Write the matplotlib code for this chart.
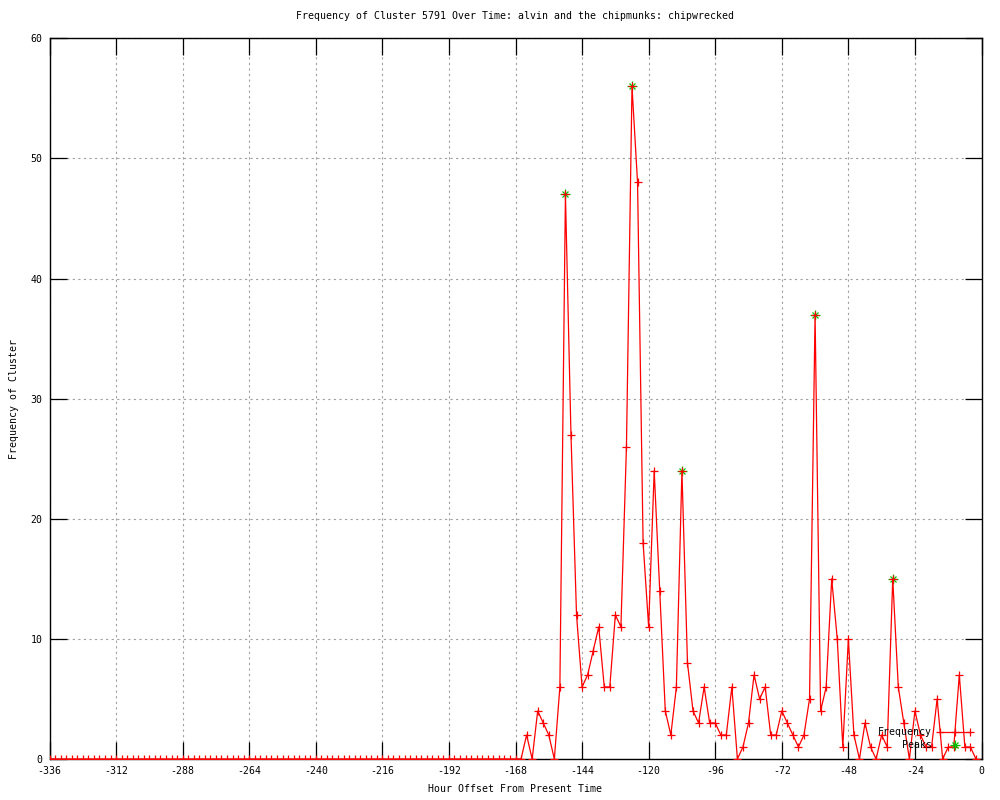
import matplotlib
matplotlib.use("Agg")
import matplotlib.pyplot as plt
import numpy as np

# hourly offsets, sampled every 2 hours
hours = np.arange(-336, 0, 2)

# counts: flat before -168, then the active window -168 .. -2
quiet_counts = [0] * 84
active_counts = [
    0, 0, 2, 0, 4, 3, 2, 0, 6, 47, 27, 12, 6, 7, 9, 11, 6, 6, 12, 11,
    26, 56, 48, 18, 11, 24, 14, 4, 2, 6, 24, 8, 4, 3, 6, 3, 3, 2, 2, 6,
    0, 1, 3, 7, 5, 6, 2, 2, 4, 3, 2, 1, 2, 5, 37, 4, 6, 15, 10, 1,
    10, 2, 0, 3, 1, 0, 2, 1, 15, 6, 3, 0, 4, 2, 1, 1, 5, 0, 1, 1,
    7, 1, 1, 0,
]
counts = np.array(quiet_counts + active_counts)

peak_hours = [-150, -126, -108, -60, -32]
peak_counts = [47, 56, 24, 37, 15]

x_ticks = list(range(-336, 1, 24))
y_ticks = list(range(0, 61, 10))

RED = "#ff0000"
GREEN = "#00c000"
FONT = "DejaVu Sans Mono"
FS = 7.1


def main():
    plt.rcParams["font.family"] = FONT
    plt.rcParams["font.size"] = FS
    plt.rcParams["axes.unicode_minus"] = False

    fig = plt.figure(figsize=(10, 8), dpi=100)
    ax = fig.add_axes([0.0495, 0.05125, 0.932, 0.9008])

    ax.plot(hours, counts, color=RED, lw=0.9, marker="+", ms=5.2, mew=0.9, zorder=3)
    ax.plot(peak_hours, peak_counts, ls="none", marker="x", ms=4.5, mew=0.9,
            color=GREEN, zorder=2)
    ax.plot(peak_hours, peak_counts, ls="none", marker="+", ms=6.5, mew=0.9,
            color=GREEN, zorder=2)

    ax.set_xlim(-336, 0)
    ax.set_ylim(0, 60)
    ax.set_xticks(x_ticks)
    ax.set_yticks(y_ticks)
    ax.set_xticklabels([str(t) for t in x_ticks])
    ax.set_yticklabels([str(t) for t in y_ticks])
    ax.tick_params(direction="in", length=12, width=0.9, top=True, right=True,
                   labelsize=FS, pad=5)
    ax.grid(True, color="#a0a0a0", ls=(0, (2, 3)), lw=0.8)
    ax.set_axisbelow(True)
    for sp in ax.spines.values():
        sp.set_linewidth(1.0)

    ax.set_xlabel("Hour Offset From Present Time", fontsize=FS, labelpad=6)
    ax.set_ylabel("Frequency of Cluster", fontsize=FS, labelpad=8)
    ax.set_title("Frequency of Cluster 5791 Over Time: alvin and the chipmunks: chipwrecked",
                 fontsize=FS, pad=14)

    # gnuplot-style key, lower right
    tr = ax.transAxes
    ax.text(0.947, 0.037, "Frequency", transform=tr, ha="right", va="center",
            fontsize=FS, zorder=5)
    ax.text(0.947, 0.019, "Peaks", transform=tr, ha="right", va="center",
            fontsize=FS, zorder=5)
    ax.plot([0.955, 0.972, 0.988], [0.037] * 3, transform=tr, color=RED,
            lw=0.9, marker="+", ms=5.2, mew=0.9, clip_on=False, zorder=5)
    ax.plot([0.972], [0.0195], transform=tr, color=GREEN, marker="x", ms=4.5,
            mew=0.9, ls="none", zorder=5)
    ax.plot([0.972], [0.0195], transform=tr, color=GREEN, marker="+", ms=6.5,
            mew=0.9, ls="none", zorder=5)

    fig.savefig("out.png", dpi=100)


if __name__ == "__main__":
    main()
